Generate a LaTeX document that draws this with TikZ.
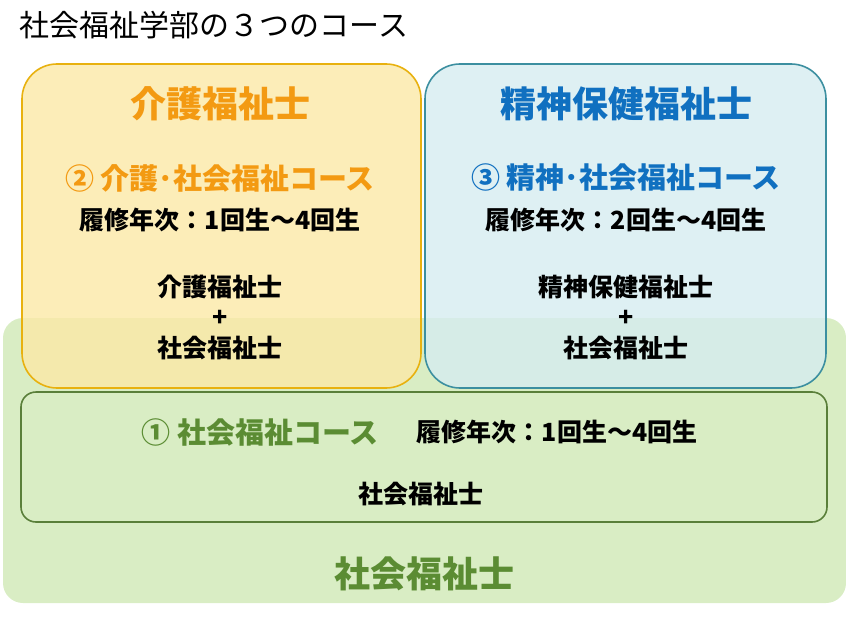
\documentclass[tikz,border=0pt]{standalone}
\usepackage{fontspec}
\setmainfont{Noto Sans CJK JP}
\definecolor{bggreen}{HTML}{D9EDC4}
\definecolor{yfill}{HTML}{FBE8A6}
\definecolor{yline}{HTML}{E8B10F}
\definecolor{bfill}{HTML}{D6ECF0}
\definecolor{bline}{HTML}{3C8FA0}
\definecolor{gline}{HTML}{5A7F3A}
\definecolor{otxt}{HTML}{F39A12}
\definecolor{btxt}{HTML}{1070C0}
\definecolor{gtxt}{HTML}{5B8C33}
\tikzset{
 big/.style={font=\bfseries\fontsize{36}{40}\selectfont},
 mid/.style={font=\bfseries\fontsize{29}{34}\selectfont},
 sm/.style={font=\bfseries\fontsize{25}{30}\selectfont},
}
\begin{document}
\begin{tikzpicture}[x=1pt,y=-1pt]
\useasboundingbox (0,0) rectangle (846,618);
\node[anchor=west,font=\fontsize{30}{34}\selectfont] (title) at (16,25) {社会福祉学部の３つのコース};
\fill[bggreen,rounded corners=20pt] (3,318) rectangle (846,603);
\draw[yline,line width=1.6pt,fill=yfill,fill opacity=0.8,rounded corners=35pt] (22,64) rectangle (421,388);
\draw[bline,line width=1.6pt,fill=bfill,fill opacity=0.8,rounded corners=35pt] (425,64) rectangle (826,388);
\draw[gline,line width=1.6pt,rounded corners=15pt] (21,392) rectangle (827,522);
\node[big,otxt] (y1) at (220,104) {介護福祉士};
\node[mid,otxt] (y2) at (220,178) {② 介護･社会福祉コース};
\node[sm] (y3) at (220,220) {履修年次：1回生～4回生};
\node[sm] (y4) at (220,287) {介護福祉士};
\node[sm] (y5) at (220,318) {+};
\node[sm] (y6) at (220,348) {社会福祉士};
\node[big,btxt] (b1) at (626,104) {精神保健福祉士};
\node[mid,btxt] (b2) at (626,178) {③ 精神･社会福祉コース};
\node[sm] (b3) at (626,220) {履修年次：2回生～4回生};
\node[sm] (b4) at (626,287) {精神保健福祉士};
\node[sm] (b5) at (626,318) {+};
\node[sm] (b6) at (626,348) {社会福祉士};
\node[mid,gtxt] (g1) at (260,432) {① 社会福祉コース};
\node[sm] (g2) at (557,432) {履修年次：1回生～4回生};
\node[sm] (g3) at (421,494) {社会福祉士};
\node[big,gtxt] (g4) at (424,574) {社会福祉士};
\end{tikzpicture}
\end{document}
